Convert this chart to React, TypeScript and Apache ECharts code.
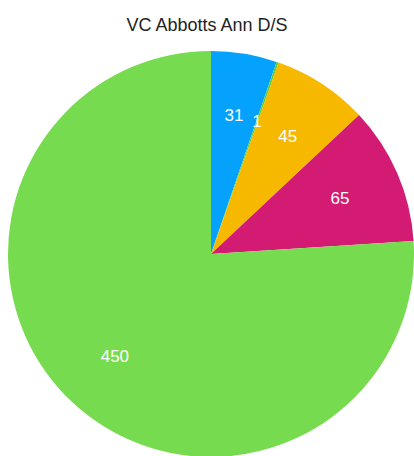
import React, { useEffect, useRef } from "react";
import * as echarts from "echarts";

const title = "VC Abbotts Ann D/S";
const categories = ["A", "B", "C", "D", "E"];
const values = [31, 1, 45, 65, 450];
const colors = ["#04A2FC", "#5CCF3B", "#F7B900", "#D41B73", "#76DB4E"];

export default function App() {
  const ref = useRef<HTMLDivElement>(null);
  useEffect(() => {
    if (!ref.current) return;
    const chart = echarts.init(ref.current, null, { renderer: "svg" });
    const data = categories.map((c, i) => ({ name: c, value: values[i], itemStyle: { color: colors[i] } }));
    chart.setOption({
      animation: false,
      title: {
        text: title,
        left: "center",
        top: 11,
        textStyle: { fontFamily: "Liberation Sans, Arial, sans-serif", fontSize: 18, fontWeight: "normal", color: "#222" },
      },
      series: [
        {
          type: "pie",
          center: [211, 254],
          radius: [0, 203],
          startAngle: 90,
          clockwise: true,
          silent: true,
          label: { show: false },
          labelLine: { show: false },
          itemStyle: { borderWidth: 0 },
          data,
        },
        {
          type: "pie",
          center: [211, 254],
          radius: [72, 203],
          startAngle: 90,
          clockwise: true,
          silent: true,
          itemStyle: { color: "transparent", borderWidth: 0 },
          label: {
            show: true,
            position: "inside",
            formatter: "{c}",
            color: "#fff",
            fontSize: 17,
            fontFamily: "Liberation Sans, Arial, sans-serif",
          },
          labelLine: { show: false },
          data: categories.map((c, i) => ({ name: c, value: values[i] })),
        },
      ],
    });
    return () => chart.dispose();
  }, []);
  return <div ref={ref} style={{ position: "absolute", left: 0, top: 0, width: 414, height: 456 }} />;
}
